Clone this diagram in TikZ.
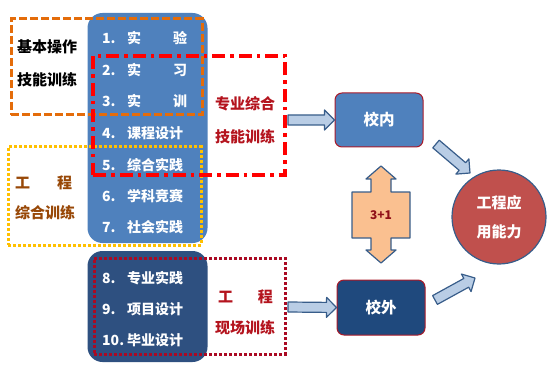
\documentclass[tikz,border=0pt]{standalone}
\usepackage{fontspec}
\setmainfont{Noto Sans CJK SC}
\usetikzlibrary{calc}
\definecolor{boxblue}{RGB}{79,129,189}
\definecolor{boxnavy}{RGB}{46,80,128}
\definecolor{innavy}{RGB}{31,73,125}
\definecolor{frameorange}{RGB}{228,108,10}
\definecolor{framered}{RGB}{255,0,0}
\definecolor{frameyellow}{RGB}{255,192,0}
\definecolor{framedred}{RGB}{170,10,35}
\definecolor{txtred}{RGB}{180,20,30}
\definecolor{txtbrown}{RGB}{152,72,7}
\definecolor{arrowfill}{RGB}{185,205,229}
\definecolor{outline}{RGB}{56,93,138}
\definecolor{peach}{RGB}{250,192,144}
\definecolor{circred}{RGB}{192,80,77}
\definecolor{edgered}{RGB}{170,25,40}
\newcommand\barrow[2]{%
  \path ($(#2)!10pt!(#1)$) coordinate (hb);
  \draw[barrowstyle] ($(#1)!5pt!90:(#2)$) -- ($(hb)!5pt!-90:(#1)$) -- ($(hb)!10pt!-90:(#1)$) -- (#2)
    -- ($(hb)!10pt!90:(#1)$) -- ($(hb)!5pt!90:(#1)$) -- ($(#1)!5pt!-90:(#2)$) -- cycle;}
\newcommand\itm[2]{\makebox[25pt][l]{#1}\makebox[60pt][s]{#2}}
\begin{document}
\begin{tikzpicture}[x=1pt,y=-1pt,
  bigbox/.style={rounded corners=15pt, minimum width=120pt, inner sep=0pt},
  item/.style={anchor=west, text=white, font=\fontsize{14}{14}\selectfont\bfseries, inner sep=0pt},
  lbl/.style={font=\fontsize{15}{15}\selectfont\bfseries, inner sep=0pt},
  frame/.style={line width=3pt, inner sep=0pt},
  barrowstyle/.style={fill=arrowfill, draw=outline, line width=1.2pt, line join=round},
  smallbox/.style={rounded corners=7pt, draw=edgered, line width=1pt, minimum width=88pt, minimum height=54pt,
    text=white, font=\fontsize{15.5}{15.5}\selectfont\bfseries}]
\useasboundingbox (0,0) rectangle (553,366);
% blue boxes
\node[bigbox, fill=boxblue, minimum height=230pt] (top) at (147.5,128) {};
\node[bigbox, fill=boxnavy, minimum height=111pt] (bot) at (147.5,306.5) {};
% items
\node[item] (i1) at (102,38) {\itm{1.}{实\hfill 验}};
\node[item] (i2) at (102,70) {\itm{2.}{实\hfill 习}};
\node[item] (i3) at (102,101) {\itm{3.}{实\hfill 训}};
\node[item] (i4) at (102,133) {\itm{4.}{课程设计}};
\node[item] (i5) at (102,165) {\itm{5.}{综合实践}};
\node[item] (i6) at (102,196) {\itm{6.}{学科竞赛}};
\node[item] (i7) at (102,227) {\itm{7.}{社会实践}};
\node[item] (i8) at (102,278) {\itm{8.}{专业实践}};
\node[item] (i9) at (102,309) {\itm{9.}{项目设计}};
\node[item] (i10) at (102,340) {\itm{10.}{毕业设计}};
% frames
\node[frame, draw=frameorange, dash pattern=on 8pt off 3pt, minimum width=191pt, minimum height=96pt] (fo) at (106.5,67) {};
\node[frame, draw=frameyellow, dash pattern=on 3pt off 2pt, minimum width=193pt, minimum height=98pt] (fy) at (104.5,196) {};
\node[frame, draw=framered, line width=3.5pt, dash pattern=on 13pt off 5pt on 3.5pt off 5pt, minimum width=192pt, minimum height=119pt] (fr) at (189,115.5) {};
\node[frame, draw=framedred, dash pattern=on 3pt off 2pt, minimum width=191pt, minimum height=96pt] (fd) at (189.5,306) {};
% labels
\node[lbl, anchor=west] (l1) at (17,47) {基本操作};
\node[lbl, anchor=west] (l2) at (17,80) {技能训练};
\node[lbl, text=txtred] (l3) at (245,104) {专业综合};
\node[lbl, text=txtred] (l4) at (245,137) {技能训练};
\node[lbl, text=txtbrown] (l5) at (43.5,183) {\makebox[57pt][s]{工\hfill 程}};
\node[lbl, text=txtbrown] (l6) at (45,213) {综合训练};
\node[lbl, text=txtred] (l7) at (245.5,297) {\makebox[55pt][s]{工\hfill 程}};
\node[lbl, text=txtred] (l8) at (245,328) {现场训练};
% right side
\node[smallbox, fill=boxblue] (in) at (379,120) {校内};
\node[smallbox, fill=innavy, minimum height=55pt] (out) at (381,307.5) {校外};
\node[circle, fill=circred, draw=outline, line width=1.2pt, minimum size=94pt, inner sep=0pt, text=white,
  font=\fontsize{15}{15}\selectfont\bfseries, align=center] (cap) at (499,217) {工程应\\[14pt]用能力};
% 3+1 double arrow
\draw[fill=peach, draw=outline, line width=1.2pt, line join=round]
  (381,166) -- (396,179) -- (391,179) -- (391,192) -- (410,192) -- (410,238) -- (391,238) -- (391,250)
  -- (396,250) -- (381,263) -- (366,250) -- (371,250) -- (371,238) -- (352,238) -- (352,192)
  -- (371,192) -- (371,179) -- (366,179) -- cycle;
\node[text=txtred!80!black, font=\fontsize{12}{12}\selectfont\bfseries, inner sep=0pt] (tp) at (381,215) {3+1};
% block arrows
\coordinate (a1s) at (288,120);
\coordinate (a1e) at (in.west);
\coordinate (a2s) at (288,307);
\coordinate (a2e) at (out.west);
\coordinate (a3s) at (436,144);
\coordinate (a3e) at (470,173);
\coordinate (a4s) at (435,300);
\coordinate (a4e) at (475,278);
\barrow{a1s}{a1e}
\barrow{a2s}{a2e}
\barrow{a3s}{a3e}
\barrow{a4s}{a4e}
\end{tikzpicture}
\end{document}
